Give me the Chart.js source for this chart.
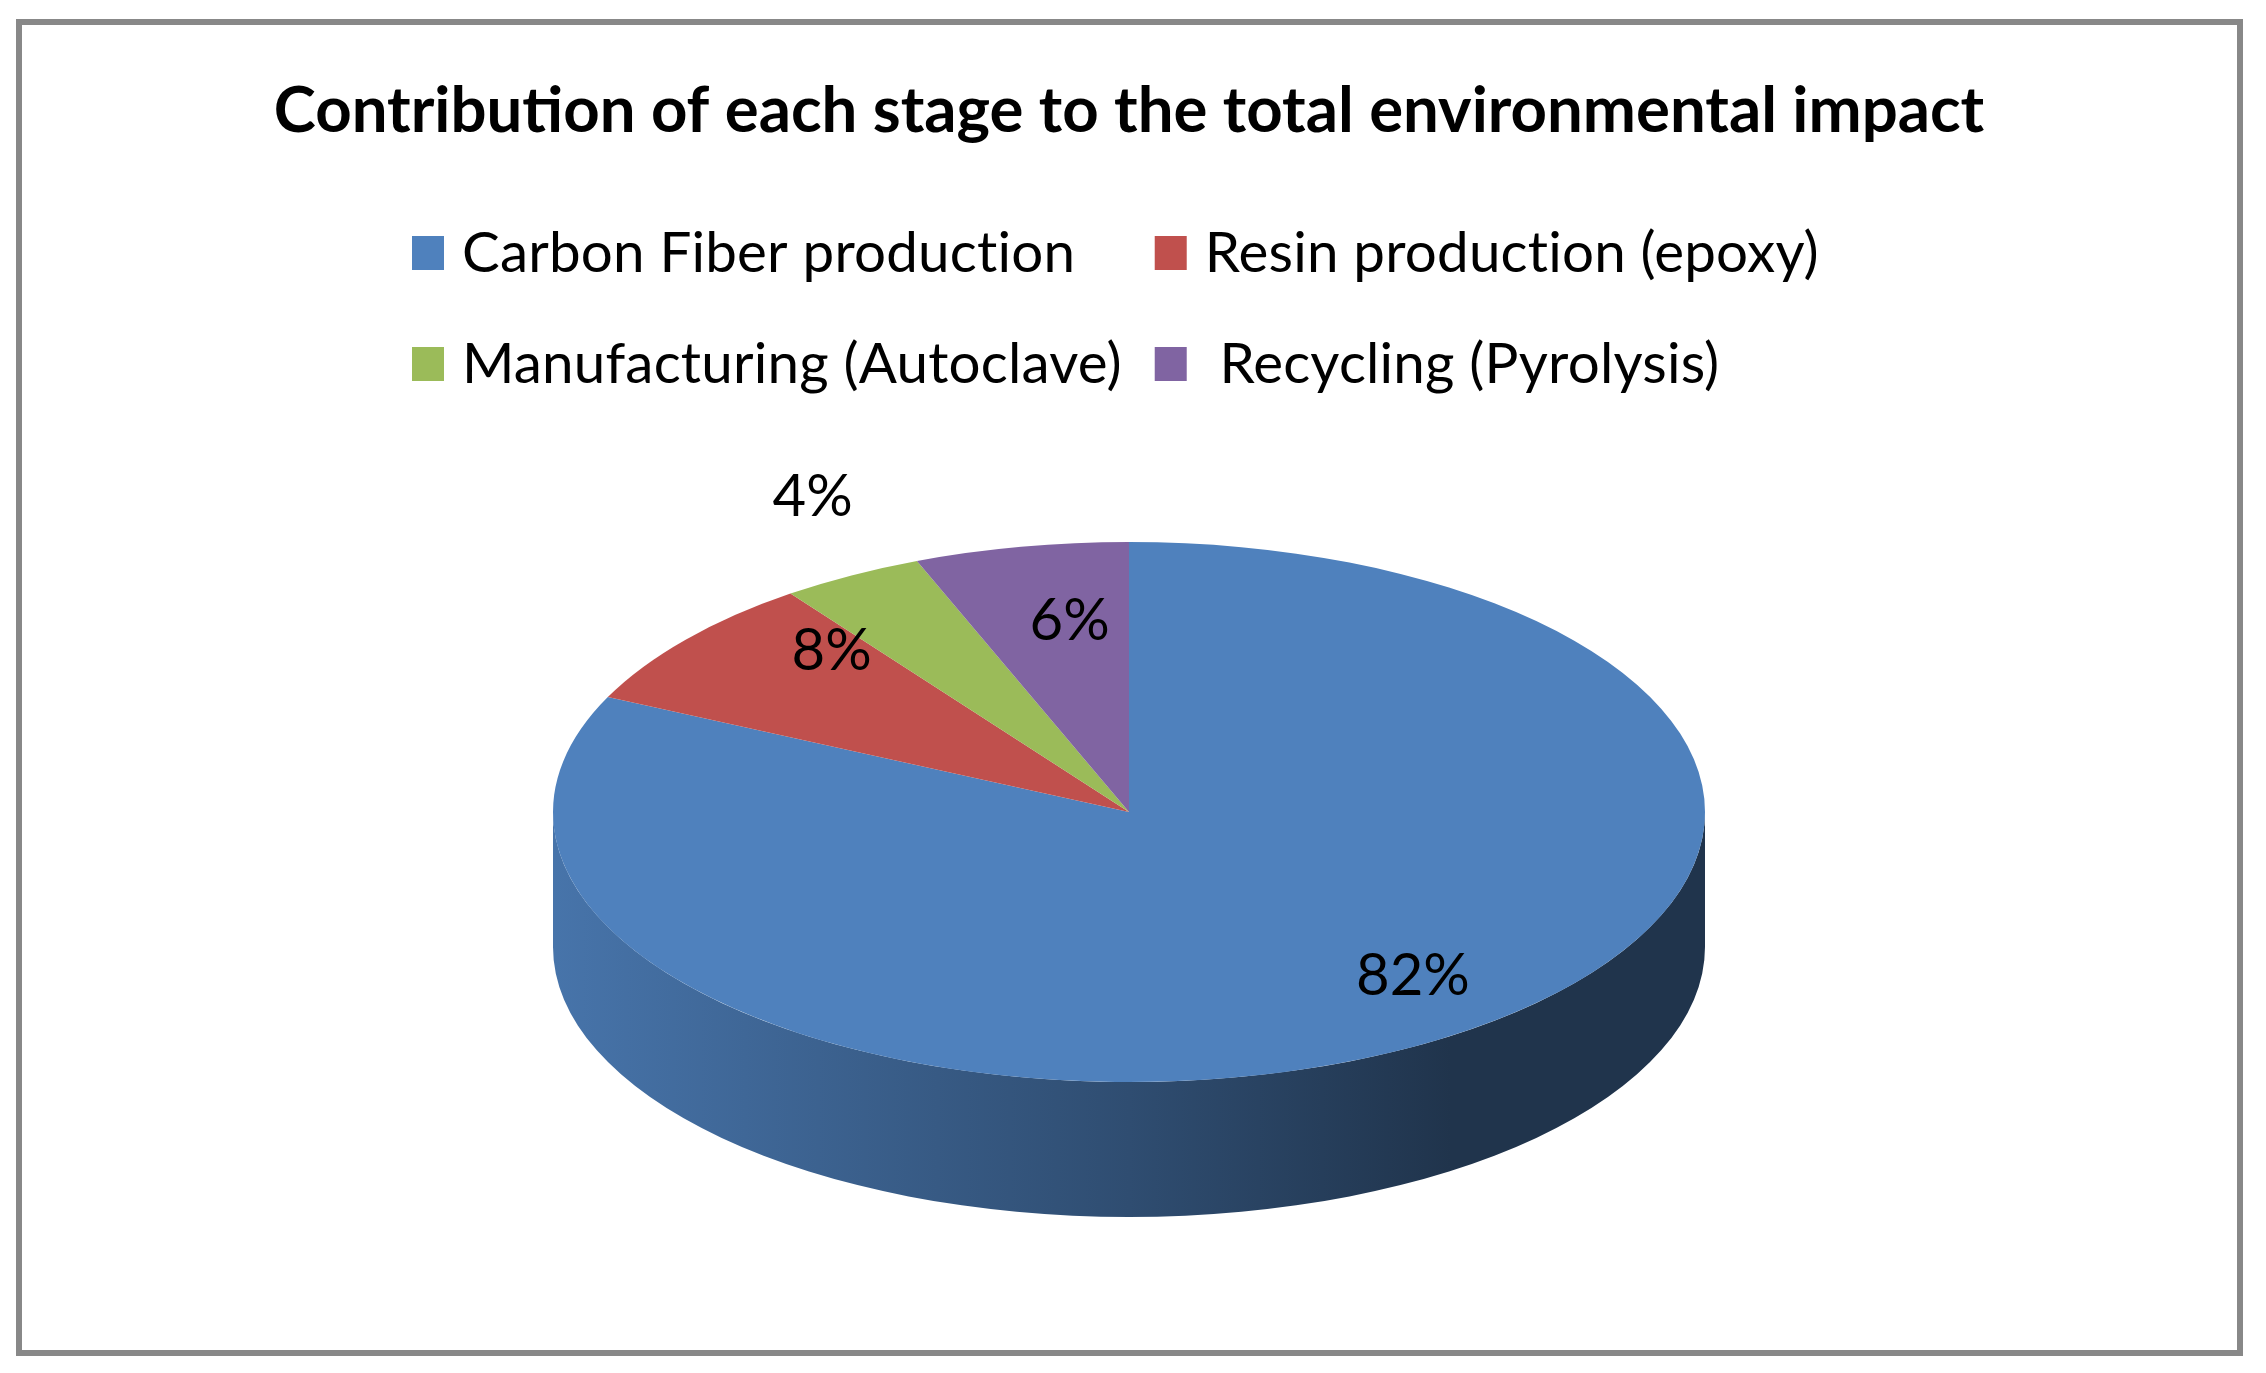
<!DOCTYPE html>
<html>
<head>
<meta charset="utf-8">
<script src="https://cdn.jsdelivr.net/npm/chart.js@4.4.1/dist/chart.umd.min.js"></script>
<style>
  html, body { margin: 0; padding: 0; background: #ffffff; }
  #wrap { width: 2266px; height: 1373px; position: relative; }
</style>
</head>
<body>
<div id="wrap"><canvas id="chart"></canvas></div>
<script>
// ---- data ----
const chartTitle = 'Contribution of each stage to the total environmental impact';
const categories = ['Carbon Fiber production', 'Resin production (epoxy)', 'Manufacturing (Autoclave)', ' Recycling (Pyrolysis)'];
const shares = [82, 8, 4, 6];
const sliceColors = ['#4F81BD', '#C0504D', '#9BBB59', '#8064A2'];

// ---- style / layout ----
const FONT = 'Lato, "Open Sans", sans-serif';
const PIE = { radius: 576, tilt: 270 / 576, depth: 135 };
const LABEL = { size: 58, radius: [0.92, 0.67, 1.14, 0.55], lift: 45 };
const LEGEND = { x: 412, baselines: [272, 383], boxW: 32, boxH: 34, textGap: 18, colGap: 33, size: 56.5 };
const FRAME = { x: 19, y: 22, w: 2221, h: 1331, width: 6, color: '#888888' };

function shade(hex, f) {
  const n = parseInt(hex.slice(1), 16);
  const r = (n >> 16) & 255, g = (n >> 8) & 255, b = n & 255;
  return 'rgb(' + Math.round(r * f) + ',' + Math.round(g * f) + ',' + Math.round(b * f) + ')';
}

const pie3d = {
  id: 'pie3d',
  beforeDraw(chart) {
    const ctx = chart.ctx;
    ctx.save();
    ctx.fillStyle = '#ffffff';
    ctx.fillRect(0, 0, chart.width, chart.height);
    ctx.restore();
  },
  beforeDatasetsDraw(chart) {
    const ctx = chart.ctx;
    const meta = chart.getDatasetMeta(0);
    const a0 = meta.data[0];
    const cx = a0.x, cy = a0.y, R = a0.outerRadius, Ry = R * PIE.tilt, D = PIE.depth;
    // side wall (visible front half) for each slice
    meta.data.forEach((arc) => {
      [[0, Math.PI], [2 * Math.PI, 3 * Math.PI]].forEach(([lo, hi]) => {
        const s = Math.max(arc.startAngle, lo), e = Math.min(arc.endAngle, hi);
        if (e <= s) return;
        const col = arc.options.backgroundColor;
        const g = ctx.createLinearGradient(cx - R, 0, cx + R, 0);
        g.addColorStop(0, shade(col, 0.9));
        g.addColorStop(0.5, shade(col, 0.6));
        g.addColorStop(0.78, shade(col, 0.4));
        g.addColorStop(1, shade(col, 0.4));
        ctx.beginPath();
        ctx.ellipse(cx, cy, R, Ry, 0, s, e, false);
        ctx.lineTo(cx + R * Math.cos(e), cy + Ry * Math.sin(e) + D);
        ctx.ellipse(cx, cy + D, R, Ry, 0, e, s, true);
        ctx.closePath();
        ctx.fillStyle = g;
        ctx.fill();
      });
    });
    // squash the library's pie into the tilted top face
    ctx.save();
    ctx.translate(cx, cy);
    ctx.scale(1, PIE.tilt);
    ctx.translate(-cx, -cy);
  },
  afterDatasetsDraw(chart) {
    const ctx = chart.ctx;
    ctx.restore();
    const meta = chart.getDatasetMeta(0);
    const data = chart.data.datasets[0].data;
    const total = data.reduce((a, b) => a + b, 0);
    ctx.save();
    ctx.font = LABEL.size + 'px ' + FONT;
    ctx.fillStyle = '#000000';
    ctx.textAlign = 'center';
    ctx.textBaseline = 'middle';
    meta.data.forEach((arc, i) => {
      const mid = (arc.startAngle + arc.endAngle) / 2;
      const f = LABEL.radius[i];
      const x = arc.x + f * arc.outerRadius * Math.cos(mid);
      const y = arc.y - LABEL.lift + f * arc.outerRadius * PIE.tilt * Math.sin(mid);
      ctx.fillText(Math.round(data[i] / total * 100) + '%', x, y);
    });
    ctx.restore();
  },
  afterDraw(chart) {
    const ctx = chart.ctx;
    const labels = chart.data.labels;
    const colors = chart.data.datasets[0].backgroundColor;
    ctx.save();
    ctx.font = LEGEND.size + 'px ' + FONT;
    if ('letterSpacing' in ctx) ctx.letterSpacing = '0.2px';
    ctx.textBaseline = 'alphabetic';
    ctx.textAlign = 'left';
    let col1W = 0;
    labels.forEach((t, i) => { if (i % 2 === 0) col1W = Math.max(col1W, ctx.measureText(t).width); });
    const colX = [LEGEND.x, LEGEND.x + LEGEND.boxW + LEGEND.textGap + col1W + LEGEND.colGap];
    labels.forEach((t, i) => {
      const x = colX[i % 2];
      const base = LEGEND.baselines[Math.floor(i / 2)];
      ctx.fillStyle = colors[i];
      ctx.fillRect(x, base - LEGEND.boxH - 2, LEGEND.boxW, LEGEND.boxH);
      ctx.fillStyle = '#000000';
      ctx.fillText(t, x + LEGEND.boxW + LEGEND.textGap, base);
    });
    // outer frame
    ctx.strokeStyle = FRAME.color;
    ctx.lineWidth = FRAME.width;
    ctx.strokeRect(FRAME.x, FRAME.y, FRAME.w, FRAME.h);
    ctx.restore();
  }
};

new Chart(document.getElementById('chart'), {
  type: 'pie',
  data: {
    labels: categories,
    datasets: [{
      data: shares,
      backgroundColor: sliceColors,
      borderWidth: 0,
      radius: PIE.radius,
      clip: false
    }]
  },
  options: {
    responsive: true,
    maintainAspectRatio: false,
    animation: false,
    devicePixelRatio: 1,
    rotation: 0,
    layout: { padding: { top: 0, left: 0, right: 8, bottom: 149 } },
    plugins: {
      legend: { display: false },
      tooltip: { enabled: false },
      title: {
        display: true,
        text: chartTitle,
        color: '#000000',
        font: { family: FONT, size: 63.5, weight: 'bold', lineHeight: 1.2 },
        padding: { top: 73, bottom: 250.8 }
      }
    }
  },
  plugins: [pie3d]
});
</script>
</body>
</html>
